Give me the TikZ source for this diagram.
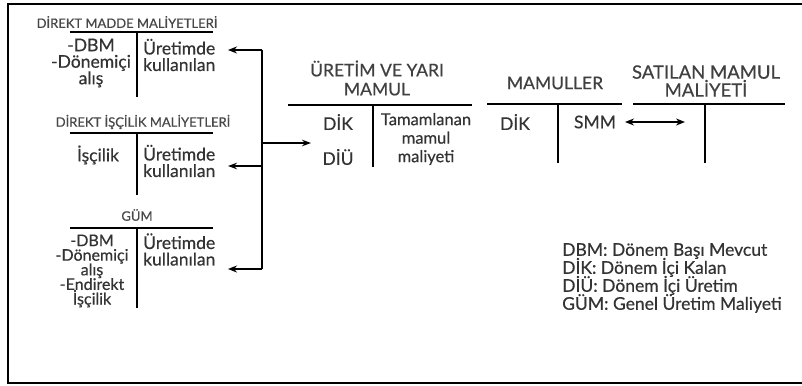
\documentclass[tikz,border=0pt]{standalone}
\usepackage{fontspec}
\setmainfont{Lato}[UprightFeatures={FakeBold=0.5}]
\usetikzlibrary{arrows.meta}
% let baselines sit closer than the glyph heights
\newcommand\tightlines{\lineskiplimit=-20pt\relax}
\begin{document}
\begin{tikzpicture}[x=1pt,y=-1pt,
  ttl/.style={font=\fontsize{13}{14}\selectfont, text=black!72, inner sep=0},
  head/.style={font=\fontsize{17.5}{19}\selectfont\tightlines, text=black!75, inner sep=0, align=center},
  body/.style={font=\fontsize{17.5}{16.5}\selectfont\tightlines, text=black!80, inner sep=0, align=center},
  bodyl/.style={body, align=left, anchor=west},
  tline/.style={line width=2.2pt},
  bus/.style={line width=2.4pt},
  arr/.style={line width=2.4pt, -{Stealth[length=9pt,width=7pt]}},
  arrthin/.style={line width=1.4pt, -{Stealth[length=9pt,width=6.5pt]}},
]
\useasboundingbox (0,0) rectangle (802,385);
% outer frame, open on the right
\draw[line width=2pt] (802,4) -- (8,4) -- (8,383) -- (802,383);

% --- Direkt madde maliyetleri
\node[ttl] (dmT) at (127,22) {DİREKT MADDE MALİYETLERİ};
\draw[tline] (70,32) -- (213,32);
\draw[tline] (137,32) -- (137,97);
\node[body] (dmL) at (91,63) {-DBM\\-Dönemiçi\\alış};
\node[bodyl] (dmR) at (143,55) {Üretimde\\kullanılan};

% --- Direkt işçilik maliyetleri
\node[ttl] (diT) at (143,122) {DİREKT İŞÇİLİK MALİYETLERİ};
\draw[tline] (70,133) -- (213,133);
\draw[tline] (137,133) -- (137,195);
\node[body] (diL) at (98,155) {İşçilik};
\node[bodyl] (diR) at (143,161) {Üretimde\\kullanılan};

% --- Genel üretim maliyeti
\node[ttl] (gT) at (137,215) {GÜM};
\draw[tline] (70,228) -- (213,228);
\draw[tline] (137,228) -- (137,308);
\node[body, font=\fontsize{16}{14.6}\selectfont\tightlines] (gL) at (92,271) {-DBM\\-Dönemiçi\\alış\\-Endirekt\\İşçilik};
\node[bodyl] (gR) at (143,249.5) {Üretimde\\kullanılan};

% --- Üretim ve yarı mamul
\node[head] (uT) at (377,78) {ÜRETİM VE YARI\\MAMUL};
\draw[tline] (288,105) -- (472,105);
\draw[tline] (373,105) -- (373,167);
\node[body] (uDik) at (338,122) {DİK};
\node[body] (uDiu) at (338,157) {DİÜ};
\node[body, font=\fontsize{16.5}{18.5}\selectfont\tightlines] (uR) at (426,139) {Tamamlanan\\mamul\\maliyeti};

% --- Mamuller
\node[head] (mT) at (555,83) {MAMULLER};
\draw[tline] (487,104) -- (622,104);
\draw[tline] (558,104) -- (558,163);
\node[body] (mDik) at (515,122) {DİK};
\node[body] (mSmm) at (595,122) {SMM};

% --- Satılan mamul maliyeti
\node[head, font=\fontsize{18.5}{18}\selectfont\tightlines] (sT) at (706,81) {SATILAN MAMUL\\MALİYETİ};
\draw[tline] (633,104) -- (785,104);
\draw[tline] (705,104) -- (705,163);

% --- flow of costs
\coordinate (busA) at (262,50);
\coordinate (busB) at (262,166);
\coordinate (busC) at (262,269);
\coordinate (busM) at (262,143);
\coordinate (dmIn) at (228,50);
\coordinate (diIn) at (228,166);
\coordinate (gIn) at (228,269);
\coordinate (uIn) at (311,143);
\draw[bus] (busA) -- (busC);
\draw[arr] (busA) -- (dmIn);
\draw[arrthin] (busB) -- (diIn);
\draw[arr] (busC) -- (gIn);
\draw[arrthin, line width=1.8pt] (busM) -- (uIn);
\coordinate (smmL) at (625,122);
\coordinate (smmR) at (685,122);
\draw[line width=1.8pt, {Stealth[length=9pt,width=7pt]}-{Stealth[length=9pt,width=7pt]}] (smmL) -- (smmR);

% --- legend
\node[bodyl, font=\fontsize{17.5}{18}\selectfont\tightlines] (leg) at (562,278) {DBM: Dönem Başı Mevcut\\DİK: Dönem İçi Kalan\\DİÜ: Dönem İçi Üretim\\GÜM: Genel Üretim Maliyeti};
\end{tikzpicture}
\end{document}
